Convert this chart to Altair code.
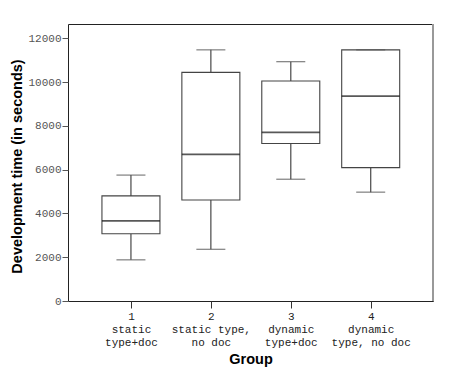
import json
import altair as alt
import pandas as pd

groups = [1, 2, 3, 4]
group_labels = [
    ["1", "static", "type+doc"],
    ["2", "static type,", "no doc"],
    ["3", "dynamic", "type+doc"],
    ["4", "dynamic", "type, no doc"],
]
lower = [1880, 2360, 5560, 4970]
q1 = [3070, 4610, 7190, 6090]
median = [3660, 6700, 7700, 9360]
q3 = [4800, 10440, 10050, 11470]
upper = [5750, 11470, 10930, 11470]
y_ticks = [0, 2000, 4000, 6000, 8000, 10000, 12000]

df = pd.DataFrame({"group": groups, "lower": lower, "q1": q1, "median": median,
                   "q3": q3, "upper": upper})

label_expr = json.dumps(group_labels).replace('"', "'") + "[datum.value - 1]"

x_axis = alt.Axis(values=groups, labelExpr=label_expr, title="Group", grid=False,
                  domain=False, ticks=True, tickSize=7, tickColor="#333",
                  labelFont="Liberation Mono", labelFontSize=11, labelColor="#222",
                  labelLineHeight=13.3, labelPadding=2, labelAngle=0,
                  titleFont="Liberation Sans", titleFontSize=14.5, titleFontWeight="bold",
                  titleColor="#000", titleBaseline="alphabetic", titleY=62, titleX=182.5)
x_enc = alt.X("group:Q", scale=alt.Scale(domain=[0.275, 4.717], nice=False, zero=False),
              axis=x_axis)

y_axis = alt.Axis(values=y_ticks, format="d", grid=False, domain=False, tickSize=6,
                  tickColor="#555",
                  labelFont="Liberation Mono", labelFontSize=11, labelColor="#555",
                  labelPadding=1,
                  titleFont="Liberation Sans", titleFontSize=14.5, titleFontWeight="bold",
                  titleColor="#000", titleBaseline="alphabetic", titleX=-47, titleY=142)
y_scale = alt.Scale(domain=[0, 12650], nice=False, zero=True)
TITLE = "Development time (in seconds)"


def Y(field):
    return alt.Y(f"{field}:Q", scale=y_scale, axis=y_axis, title=TITLE)


base = alt.Chart(df).encode(x=x_enc)

whisk_up = base.mark_rule(color="#555", strokeWidth=1.3).encode(y=Y("q3"), y2="upper:Q")
whisk_lo = base.mark_rule(color="#555", strokeWidth=1.3).encode(y=Y("lower"), y2="q1:Q")
box = base.mark_bar(size=58, fill="white", stroke="#444", strokeWidth=1.1).encode(
    y=Y("q1"), y2="q3:Q")
med = base.mark_tick(size=58, thickness=1.8, color="#111", orient="horizontal").encode(
    y=Y("median"))
cap_up = base.mark_tick(size=29, thickness=1.3, color="#555", orient="horizontal").encode(
    y=Y("upper"))
cap_lo = base.mark_tick(size=29, thickness=1.3, color="#555", orient="horizontal").encode(
    y=Y("lower"))
right_edge = alt.Chart(df).mark_rule(color="#999", strokeWidth=2).encode(
    x=alt.value(365), y=alt.value(0), y2=alt.value(277))

chart = alt.layer(whisk_up, whisk_lo, box, med, cap_up, cap_lo, right_edge).properties(
    width=365, height=277,
    padding={"left": 60, "top": 16, "right": 8, "bottom": 70},
    autosize=alt.AutoSizeParams(type="none"),
    background="white",
).configure_view(stroke="#222", strokeWidth=1)

chart.save("out.html", embed_options={"renderer": "svg", "actions": False})
